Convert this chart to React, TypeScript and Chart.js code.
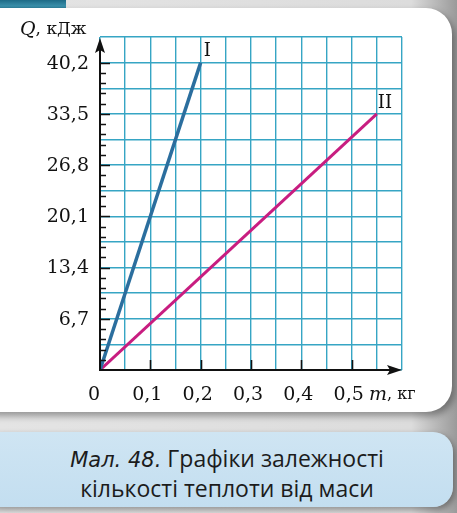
import { useEffect, useRef } from "react";
import { Chart, registerables } from "chart.js";
import type { Plugin } from "chart.js";

Chart.register(...registerables);

// дані графіків
const massI = [0, 0.2];
const heatI = [0, 40.2];
const massII = [0, 0.55];
const heatII = [0, 33.5];

const seriesNames = ["I", "II"];
const yTickLabels = [6.7, 13.4, 20.1, 26.8, 33.5, 40.2];
const xTickLabels = [0, 0.1, 0.2, 0.3, 0.4, 0.5];

const GRID = "#36a5c4";
const SERIF = "'DejaVu Serif', serif";

const fmt = (v: number) => String(v).replace(".", ",");

// осі зі стрілками, поділки, підписи
const axesPlugin: Plugin<"line"> = {
  id: "bookAxes",
  afterDatasetsDraw(chart) {
    const { ctx, chartArea } = chart;
    const xs = chart.scales.x;
    const ys = chart.scales.y;
    const x0 = xs.getPixelForValue(0);
    const y0 = ys.getPixelForValue(0);
    const top = chartArea.top;
    const right = chartArea.right;

    ctx.save();
    ctx.strokeStyle = "#111";
    ctx.fillStyle = "#111";
    ctx.lineWidth = 2;
    ctx.lineCap = "butt";

    // осі
    ctx.beginPath();
    ctx.moveTo(x0, y0 + 1);
    ctx.lineTo(x0, top + 8);
    ctx.moveTo(x0 - 1, y0);
    ctx.lineTo(right - 8, y0);
    ctx.stroke();

    // стрілки
    ctx.beginPath();
    ctx.moveTo(x0, top + 1);
    ctx.lineTo(x0 - 5, top + 16);
    ctx.lineTo(x0, top + 13);
    ctx.lineTo(x0 + 5, top + 16);
    ctx.closePath();
    ctx.fill();
    ctx.beginPath();
    ctx.moveTo(right, y0);
    ctx.lineTo(right - 15, y0 - 5);
    ctx.lineTo(right - 12, y0);
    ctx.lineTo(right - 15, y0 + 5);
    ctx.closePath();
    ctx.fill();

    // дрібні поділки на осі Q
    const last = yTickLabels[yTickLabels.length - 1];
    const minorStep = yTickLabels[0] / 5;
    ctx.lineWidth = 1.6;
    ctx.beginPath();
    for (let k = 1; k * minorStep <= last + 0.001; k++) {
      const py = Math.round(ys.getPixelForValue(k * minorStep)) + 0.5;
      const major = k % 5 === 0;
      ctx.moveTo(x0, py);
      ctx.lineTo(x0 + (major ? 10 : 6), py);
    }
    // поділки на осі m
    xTickLabels.forEach((v) => {
      if (v === 0) return;
      const px = Math.round(xs.getPixelForValue(v)) + 0.5;
      ctx.moveTo(px, y0);
      ctx.lineTo(px, y0 - 10);
    });
    ctx.stroke();

    // підписи поділок
    ctx.font = `19px ${SERIF}`;
    ctx.textBaseline = "middle";
    ctx.textAlign = "right";
    yTickLabels.forEach((v) => {
      ctx.fillText(fmt(v), x0 - 11, ys.getPixelForValue(v) + 1);
    });
    ctx.textAlign = "center";
    xTickLabels.forEach((v) => {
      const px = xs.getPixelForValue(v) + (v === 0 ? -6 : -3);
      ctx.fillText(fmt(v), px, y0 + 25);
    });

    // назви осей
    ctx.textAlign = "left";
    ctx.font = `italic 19px ${SERIF}`;
    const qx = x0 - 80;
    ctx.fillText("Q", qx, top - 7);
    const qw = ctx.measureText("Q").width;
    ctx.font = `17px ${SERIF}`;
    ctx.fillText(", кДж", qx + qw, top - 7);

    ctx.font = `italic 19px ${SERIF}`;
    const mx = right - 33;
    ctx.fillText("m", mx, y0 + 25);
    const mw = ctx.measureText("m").width;
    ctx.font = `16px ${SERIF}`;
    ctx.fillText(", кг", mx + mw, y0 + 25);

    // позначки графіків
    ctx.font = `18px ${SERIF}`;
    chart.data.datasets.forEach((ds, i) => {
      const meta = chart.getDatasetMeta(i);
      const pt = meta.data[meta.data.length - 1];
      if (!pt) return;
      ctx.fillText(seriesNames[i], pt.x + (i === 0 ? 3 : 1), pt.y - 11);
    });

    ctx.restore();
  },
};

export default function App() {
  const canvasRef = useRef<HTMLCanvasElement>(null);
  const chartRef = useRef<Chart<"line"> | null>(null);

  useEffect(() => {
    if (!canvasRef.current) return;
    chartRef.current?.destroy();

    chartRef.current = new Chart(canvasRef.current, {
      type: "line",
      data: {
        datasets: [
          {
            label: seriesNames[0],
            data: massI.map((m, i) => ({ x: m, y: heatI[i] })),
            borderColor: "#2b6e9e",
            borderWidth: 3.5,
            pointRadius: 0,
          },
          {
            label: seriesNames[1],
            data: massII.map((m, i) => ({ x: m, y: heatII[i] })),
            borderColor: "#c81d80",
            borderWidth: 3,
            pointRadius: 0,
          },
        ],
      },
      options: {
        animation: false,
        responsive: false,
        devicePixelRatio: 1,
        layout: { padding: { left: 100, top: 37, right: 55, bottom: 143 } },
        plugins: {
          legend: { display: false },
          tooltip: { enabled: false },
        },
        scales: {
          x: {
            type: "linear",
            min: 0,
            max: 0.6,
            ticks: { stepSize: 0.05, display: false },
            grid: { color: GRID, lineWidth: 1.4, drawTicks: false },
            border: { display: false },
          },
          y: {
            type: "linear",
            min: 0,
            max: 43.55,
            ticks: { stepSize: 3.35, display: false },
            grid: { color: GRID, lineWidth: 1.4, drawTicks: false },
            border: { display: false },
          },
        },
      },
      plugins: [axesPlugin],
    });

    return () => {
      chartRef.current?.destroy();
      chartRef.current = null;
    };
  }, []);

  return (
    <div
      style={{
        position: "fixed",
        left: 0,
        top: 0,
        width: 457,
        height: 513,
        overflow: "hidden",
        background: "linear-gradient(90deg, #e4e4e4 0%, #dcdcdc 90%, #9a9a9a 100%)",
      }}
    >
      <div
        style={{
          position: "absolute",
          left: 0,
          top: 0,
          width: 66,
          height: 10,
          background: "linear-gradient(180deg, #1d6a86 0%, #3a90ab 60%, #1f6d88 100%)",
        }}
      />
      <div
        style={{
          position: "absolute",
          left: -30,
          top: 8,
          width: 482,
          height: 404,
          background: "#fff",
          borderRadius: 26,
          boxShadow: "3px 4px 7px rgba(0,0,0,0.35)",
        }}
      />
      <div
        style={{
          position: "absolute",
          left: -20,
          top: 432,
          width: 473,
          height: 75,
          background: "linear-gradient(180deg, #cfe5f3 0%, #c3def0 100%)",
          borderRadius: 20,
          boxShadow: "2px 3px 6px rgba(0,0,0,0.35)",
        }}
      />
      <div
        style={{
          position: "absolute",
          left: 0,
          top: 444,
          width: 454,
          textAlign: "center",
          fontFamily: "'Open Sans', 'Noto Sans', sans-serif",
          fontSize: 23,
          lineHeight: "28px",
          color: "#1c1c1c",
        }}
      >
        <span style={{ fontStyle: "italic", fontFamily: "'DejaVu Sans', sans-serif", fontSize: 21 }}>
          Мал. 48.
        </span>{" "}
        Графіки залежності
        <br />
        кількості теплоти від маси
      </div>
      <canvas
        ref={canvasRef}
        width={457}
        height={513}
        style={{ position: "absolute", left: 0, top: 0, width: 457, height: 513 }}
      />
    </div>
  );
}
